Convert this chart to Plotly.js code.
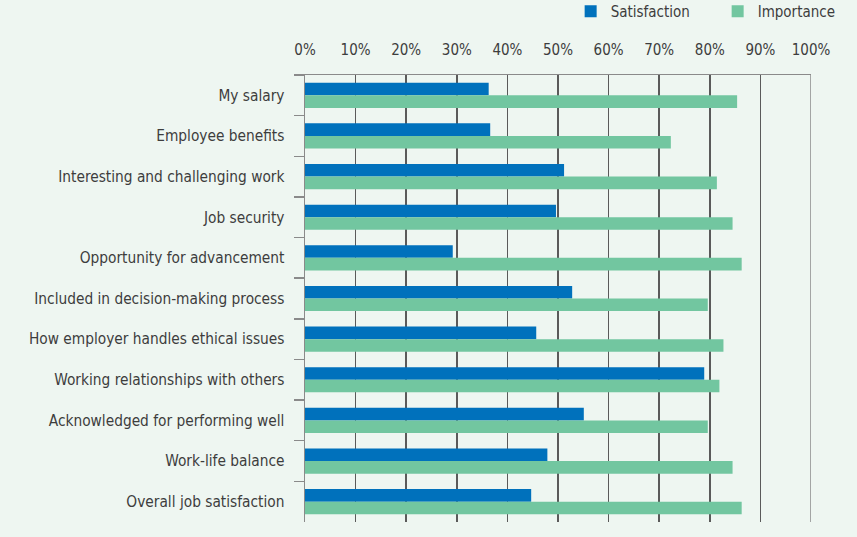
<!DOCTYPE html>
<html>
<head>
<meta charset="utf-8">
<script src="https://cdn.plot.ly/plotly-3.0.1.min.js"></script>
<style>
  html, body { margin: 0; padding: 0; background: #eef6f1; }
  #chart { width: 857px; height: 537px; }
</style>
</head>
<body>
<div id="chart"></div>
<script>
const categories = [
  "My salary",
  "Employee benefits",
  "Interesting and challenging work",
  "Job security",
  "Opportunity for advancement",
  "Included in decision-making process",
  "How employer handles ethical issues",
  "Working relationships with others",
  "Acknowledged for performing well",
  "Work-life balance",
  "Overall job satisfaction"
];
const satisfaction = [36.3, 36.6, 51.2, 49.6, 29.2, 52.8, 45.7, 78.9, 55.1, 47.9, 44.7];
const importance   = [85.4, 72.3, 81.4, 84.5, 86.3, 79.6, 82.7, 81.9, 79.6, 84.5, 86.3];
const tickVals = [0, 10, 20, 30, 40, 50, 60, 70, 80, 90, 100];

const FONT = '"Liberation Sans Narrow", "DejaVu Sans Condensed", "Roboto", sans-serif';

const data = [
  {
    type: 'bar', orientation: 'h', name: 'Satisfaction',
    y: categories, x: satisfaction,
    marker: { color: '#0071bc' },
    hoverinfo: 'x+y'
  },
  {
    type: 'bar', orientation: 'h', name: 'Importance',
    y: categories, x: importance,
    marker: { color: '#72c6a0' },
    hoverinfo: 'x+y'
  }
];

const layout = {
  width: 857, height: 537,
  paper_bgcolor: '#eef6f1',
  plot_bgcolor: '#eef6f1',
  margin: { l: 305, r: 46, t: 75, b: 15, autoexpand: false },
  barmode: 'group',
  bargap: 0.38,
  bargroupgap: 0,
  font: { family: FONT, size: 15, color: '#3d3d3d' },
  showlegend: true,
  legend: {
    orientation: 'h',
    xref: 'paper', yref: 'paper',
    x: 0.525, y: 1.179, xanchor: 'left', yanchor: 'top',
    entrywidth: 102, entrywidthmode: 'pixels',
    bgcolor: 'rgba(0,0,0,0)',
    font: { family: FONT, size: 15, color: '#3d3d3d' },
    traceorder: 'normal'
  },
  shapes: [
    { type: 'line', xref: 'x', yref: 'paper', x0: 100, x1: 100, y0: 0, y1: 1,
      line: { color: '#8a8a8a', width: 1.5 }, layer: 'below' }
  ],
  xaxis: {
    side: 'top',
    range: [0, 100],
    tickvals: tickVals,
    ticktext: tickVals.map(v => v + '%'),
    showgrid: true,
    gridcolor: '#5a5a5a',
    gridwidth: 1.5,
    zeroline: false,
    showline: true,
    linecolor: '#8a8a8a',
    linewidth: 1.5,
    ticks: '',
    ticklabelstandoff: 13,
    tickfont: { family: FONT, size: 15, color: '#3d3d3d' },
    fixedrange: true
  },
  yaxis: {
    type: 'category',
    autorange: 'reversed',
    tickson: 'boundaries',
    ticks: 'outside',
    ticklen: 10,
    tickcolor: '#8a8a8a',
    tickwidth: 1.5,
    showline: true,
    linecolor: '#8a8a8a',
    linewidth: 1.5,
    showgrid: false,
    zeroline: false,
    ticklabelstandoff: 16,
    tickfont: { family: FONT, size: 15.3, color: '#3d3d3d' },
    fixedrange: true
  }
};

Plotly.newPlot('chart', data, layout, { displayModeBar: false, staticPlot: true });
</script>
</body>
</html>
